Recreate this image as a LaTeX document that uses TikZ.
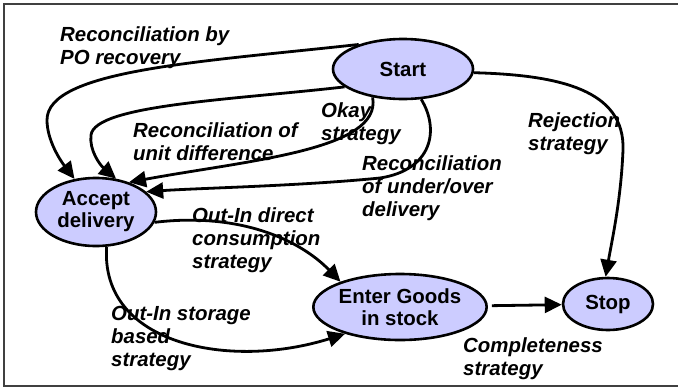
\documentclass[tikz,border=0pt]{standalone}
\usepackage{fontspec}
\setmainfont{Liberation Sans}
\usetikzlibrary{arrows.meta,shapes.geometric}
\begin{document}
\begin{tikzpicture}[x=1bp,y=-1bp,
  state/.style={draw=black, line width=2.6bp, fill=stfill, ellipse, inner sep=0pt,
    font=\fontsize{20.5}{22}\selectfont\bfseries, align=center},
  lbl/.style={anchor=north west, inner sep=0pt, align=left,
    font=\fontsize{20.5}{23.3}\selectfont\bfseries\itshape},
  conn/.style={draw=black, line width=2.8bp, -{Triangle[length=17bp,width=16bp]}}
]
\definecolor{stfill}{RGB}{204,204,255}
\useasboundingbox (0,0) rectangle (678,389);
\draw[black!75, line width=1.3bp] (690,4) -- (4,4) -- (4,386) -- (690,386);

\node[state, minimum width=140bp, minimum height=60bp] (start) at (403,69) {Start};
\node[state, minimum width=120bp, minimum height=68bp] (accept) at (96,212) {Accept\\delivery};
\node[state, minimum width=162bp, minimum height=66bp] (enter) at (400,307) {Enter Goods\\in stock};
\node[state, minimum width=90bp, minimum height=52bp] (stop) at (608,304) {Stop};

\draw[conn] (start.151) .. controls (200,62) and (47,70) .. (47,120)
  .. controls (47,140) and (60,160) .. (accept.123);
\draw[conn] (start.197) .. controls (230,100) and (95,105) .. (91,135)
  .. controls (89,150) and (100,165) .. (accept.59);
\draw[conn] (start.223) .. controls (382,150) and (250,160) .. (accept.42);
\draw[conn] (start.301) .. controls (440,130) and (432,170) .. (380,178)
  .. controls (300,186) and (200,188) .. (accept.22);
\draw[conn] (start.357) .. controls (560,75) and (625,90) .. (623,150)
  .. controls (621,200) and (612,240) .. (stop.95);
\draw[conn] (accept.350) .. controls (240,212) and (300,240) .. (enter.157);
\draw[conn] (accept.287) .. controls (100,345) and (230,370) .. (enter.206);
\draw[conn, shorten <=4bp] (enter) -- (stop);

\node[lbl] (l1) at (60,26) {Reconciliation by\\PO recovery};
\node[lbl] (l2) at (133,122) {Reconciliation of\\unit difference};
\node[lbl] (l3) at (321,102) {Okay\\strategy};
\node[lbl] (l4) at (362,155) {Reconciliation\\of under/over\\delivery};
\node[lbl] (l5) at (528,112) {Rejection\\strategy};
\node[lbl] (l6) at (192,207) {Out-In direct\\consumption\\strategy};
\node[lbl] (l7) at (111,306) {Out-In storage\\based\\strategy};
\node[lbl] (l8) at (463,337) {Completeness\\strategy};
\end{tikzpicture}
\end{document}
